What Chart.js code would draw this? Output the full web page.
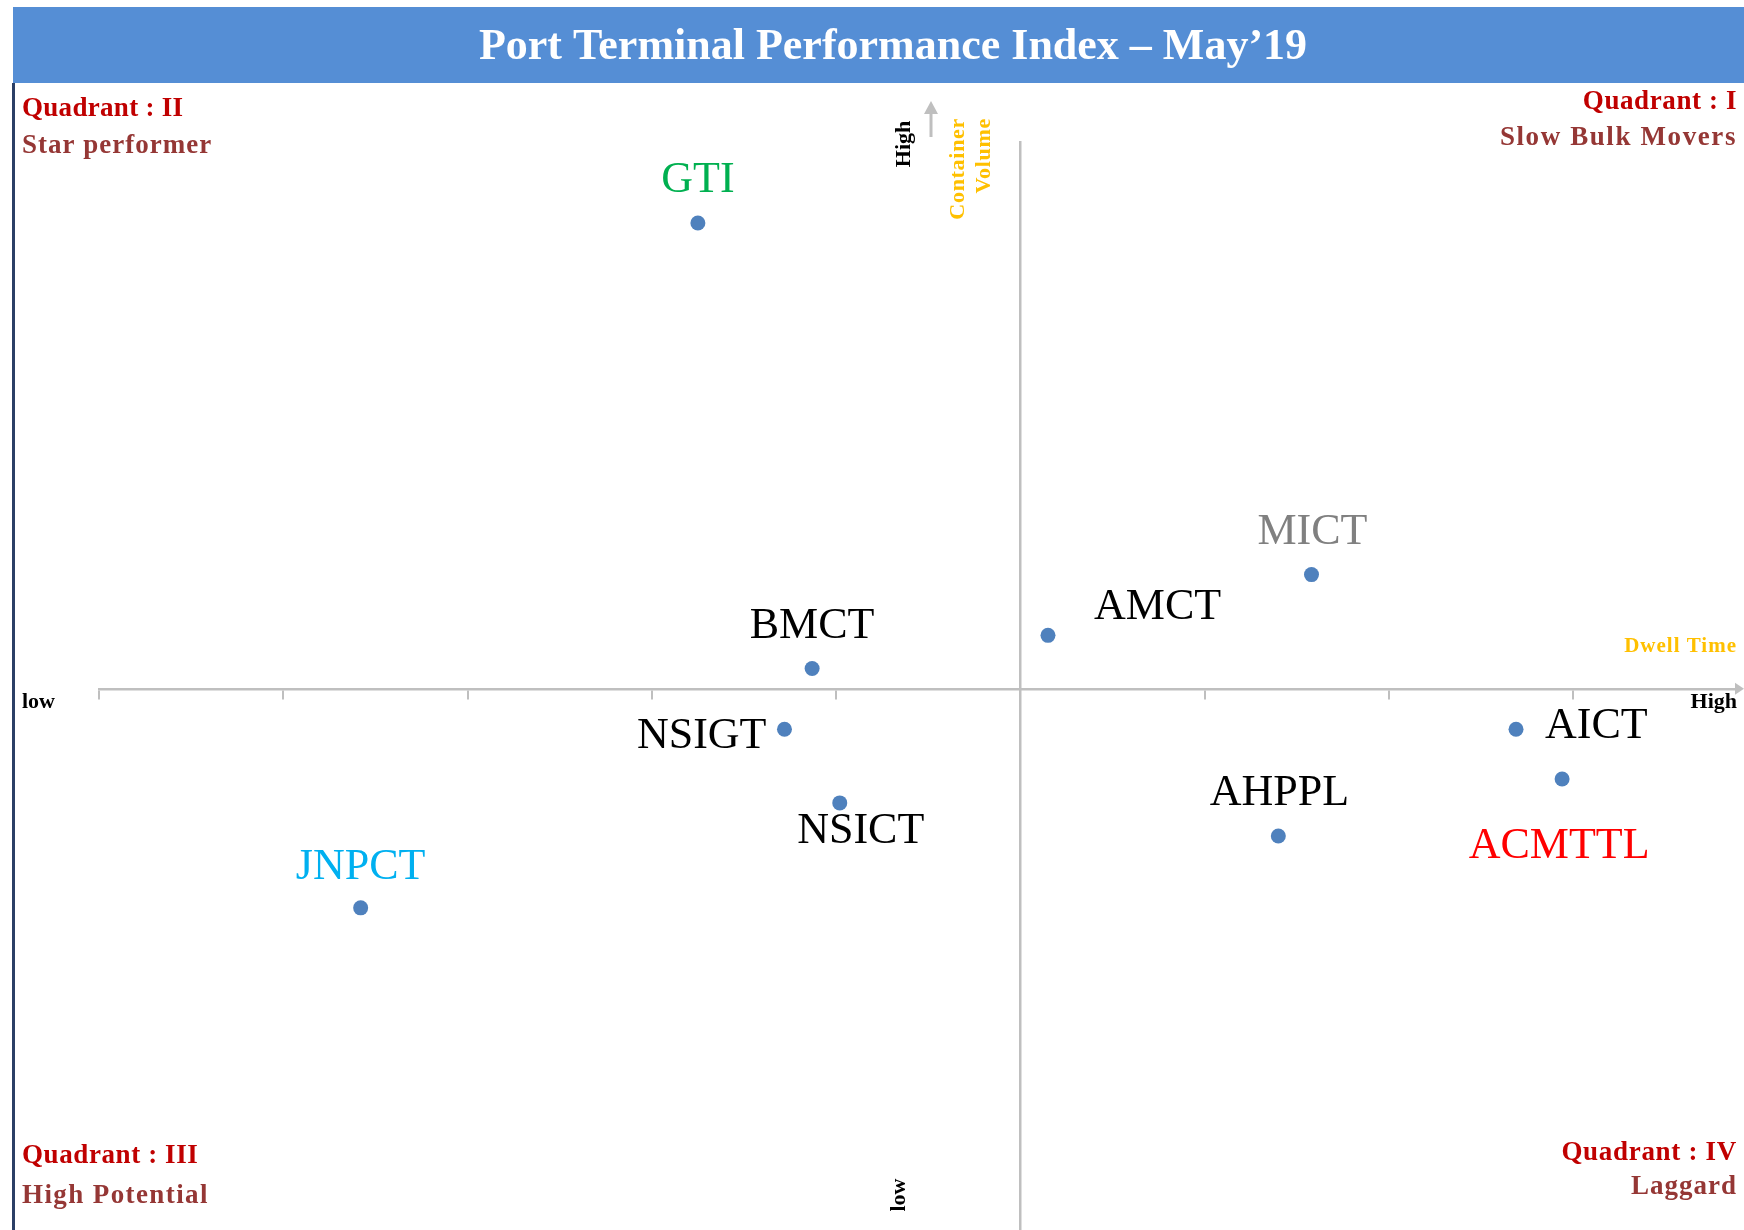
<!DOCTYPE html>
<html>
<head>
<meta charset="utf-8">
<title>Port Terminal Performance Index – May’19</title>
<script src="https://cdn.jsdelivr.net/npm/chart.js@4.4.1/dist/chart.umd.min.js"></script>
<style>
  html, body { margin: 0; padding: 0; background: #fff; }
  canvas { display: block; }
</style>
</head>
<body>
<canvas id="quadChart" width="1744" height="1230"></canvas>
<script>
//terminals and where they sit on the two axes
var terminals = ['GTI', 'MICT', 'AMCT', 'BMCT', 'NSIGT', 'NSICT', 'JNPCT', 'AHPPL', 'AICT', 'ACMTTL'];
var dwellTime = [-1.75, 1.58, 0.15, -1.13, -1.28, -0.98, -3.58, 1.40, 2.69, 2.94];
var containerVolume = [2.53, 0.62, 0.29, 0.11, -0.22, -0.62, -1.19, -0.80, -0.22, -0.49];
var dwellRange = [-5, 3.9];
var volumeRange = [-2.94, 2.97];

//label look for each terminal (colour, offset from dot, alignment)
var labelColors = ['#00B050', '#808080', '#000000', '#000000', '#000000',
    '#000000', '#00B0F0', '#000000', '#000000', '#FF0000'];
var labelOffsets = [
    [0, -31, 'center'],
    [1, -31, 'center'],
    [46, -16, 'left'],
    [0, -31, 'center'],
    [-18, 19, 'right'],
    [21, 40, 'center'],
    [0, -29, 'center'],
    [1, -31, 'center'],
    [29, 9, 'left'],
    [-3, 79, 'center']
];

var SERIF = '"Liberation Serif", "Times New Roman", serif';
var RED = '#C00000';
var BROWN = '#953735';
var GOLD = '#FFC000';

function putText(ctx, text, x, y, font, color, align, spacing) {
    ctx.font = font;
    ctx.fillStyle = color;
    ctx.textAlign = align || 'left';
    ctx.textBaseline = 'alphabetic';
    ctx.letterSpacing = (spacing || 0) + 'px';
    ctx.fillText(text, x, y);
    ctx.letterSpacing = '0px';
}

//text reading bottom to top
function putUpText(ctx, text, x, y, font, color, align, spacing) {
    ctx.save();
    ctx.translate(x, y);
    ctx.rotate(-Math.PI / 2);
    putText(ctx, text, 0, 0, font, color, align, spacing);
    ctx.restore();
}

var frame = {
    id: 'frame',
    beforeDraw: function (chart) {
        var ctx = chart.ctx;
        ctx.save();
        ctx.fillStyle = '#ffffff';
        ctx.fillRect(0, 0, chart.width, chart.height);
        //title banner
        ctx.fillStyle = '#558ED5';
        ctx.fillRect(13, 7, chart.width - 13, 76);
        putText(ctx, 'Port Terminal Performance Index \u2013 May\u201919', 893, 59,
            'bold 44px ' + SERIF, '#ffffff', 'center');
        //left edge line
        ctx.strokeStyle = '#2B3F66';
        ctx.lineWidth = 3;
        ctx.beginPath();
        ctx.moveTo(13.5, 83);
        ctx.lineTo(13.5, chart.height);
        ctx.stroke();

        var qFont = 'bold 27px ' + SERIF;
        putText(ctx, 'Quadrant : II', 22, 116, qFont, RED, 'left', 0.3);
        putText(ctx, 'Star performer', 22, 153, qFont, BROWN, 'left', 1);
        putText(ctx, 'Quadrant : I', 1737, 109, qFont, RED, 'right', 0.6);
        putText(ctx, 'Slow Bulk Movers', 1737, 145, qFont, BROWN, 'right', 1.6);
        putText(ctx, 'Quadrant : III', 22, 1163, qFont, RED, 'left', 0.6);
        putText(ctx, 'High Potential', 22, 1203, qFont, BROWN, 'left', 1.4);
        putText(ctx, 'Quadrant : IV', 1737, 1160, qFont, RED, 'right', 0.7);
        putText(ctx, 'Laggard', 1737, 1194, qFont, BROWN, 'right', 1);

        //axis end notes
        var small = 'bold 22px ' + SERIF;
        putText(ctx, 'low', 22, 708, small, '#000000', 'left');
        putText(ctx, 'High', 1737, 708, small, '#000000', 'right');
        putText(ctx, 'Dwell Time', 1737, 652, 'bold 21px ' + SERIF, GOLD, 'right', 1);
        putUpText(ctx, 'High', 910, 144, small, '#000000', 'center');
        putUpText(ctx, 'Container', 964, 118, small, GOLD, 'right', 0.7);
        putUpText(ctx, 'Volume', 990, 118, small, GOLD, 'right', 0.7);
        putUpText(ctx, 'low', 905, 1195, small, '#000000', 'center');

        //small arrow next to the upper "High"
        ctx.strokeStyle = '#BFBFBF';
        ctx.fillStyle = '#BFBFBF';
        ctx.lineWidth = 3;
        ctx.beginPath();
        ctx.moveTo(931, 137);
        ctx.lineTo(931, 112);
        ctx.stroke();
        ctx.beginPath();
        ctx.moveTo(931, 101);
        ctx.lineTo(938, 114);
        ctx.lineTo(924, 114);
        ctx.closePath();
        ctx.fill();
        ctx.restore();
    },
    afterDraw: function (chart) {
        //arrow head at the right end of the dwell time axis
        var ctx = chart.ctx;
        var area = chart.chartArea;
        var y0 = chart.scales.y.getPixelForValue(0);
        ctx.save();
        ctx.fillStyle = '#BFBFBF';
        ctx.beginPath();
        ctx.moveTo(area.right + 5, y0);
        ctx.lineTo(area.right - 4, y0 - 6);
        ctx.lineTo(area.right - 4, y0 + 6);
        ctx.closePath();
        ctx.fill();
        ctx.restore();
    },
    afterDatasetsDraw: function (chart) {
        var ctx = chart.ctx;
        var meta = chart.getDatasetMeta(0);
        ctx.save();
        meta.data.forEach(function (pt, i) {
            var off = labelOffsets[i];
            putText(ctx, terminals[i], pt.x + off[0], pt.y + off[1],
                '44px ' + SERIF, labelColors[i], off[2]);
        });
        ctx.restore();
    }
};

var points = terminals.map(function (name, i) {
    return { x: dwellTime[i], y: containerVolume[i] };
});

new Chart(document.getElementById('quadChart'), {
    type: 'scatter',
    data: {
        datasets: [{
            label: 'Terminals',
            data: points,
            pointRadius: 7.5,
            pointHoverRadius: 7.5,
            pointBorderWidth: 0,
            backgroundColor: '#4F81BD',
            borderColor: '#4F81BD'
        }]
    },
    options: {
        responsive: false,
        animation: false,
        layout: {
            autoPadding: false,
            padding: { left: 99, right: 5, top: 142, bottom: 0 }
        },
        plugins: {
            legend: { display: false },
            title: { display: false },
            tooltip: { enabled: false }
        },
        scales: {
            x: {
                type: 'linear',
                min: dwellRange[0],
                max: dwellRange[1],
                position: { y: 0 },
                afterFit: function (scale) { scale.height = 0; },
                grid: {
                    display: true,
                    drawOnChartArea: false,
                    drawTicks: true,
                    tickLength: 9,
                    color: '#BFBFBF',
                    lineWidth: 2
                },
                border: { display: true, color: '#BFBFBF', width: 2.5 },
                ticks: { display: false, stepSize: 1, includeBounds: false }
            },
            y: {
                type: 'linear',
                min: volumeRange[0],
                max: volumeRange[1],
                position: { x: 0 },
                afterFit: function (scale) { scale.width = 0; },
                grid: { display: false },
                border: { display: true, color: '#BFBFBF', width: 2.5 },
                ticks: { display: false }
            }
        }
    },
    plugins: [frame]
});
</script>
</body>
</html>
